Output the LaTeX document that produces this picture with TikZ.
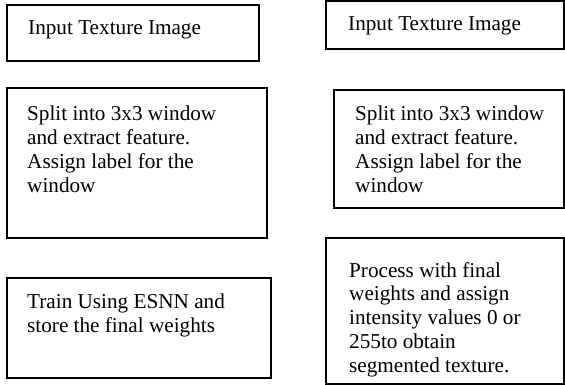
\documentclass[tikz,border=0pt]{standalone}
\usepackage{fontspec}
\setmainfont{Liberation Serif}
\begin{document}
\begin{tikzpicture}[x=1pt,y=-1pt,
  box/.style={draw=black,line width=1.6pt},
  % anchored at the baseline of the last line of each text
  label/.style={anchor=base west,inner sep=0pt,align=left,
    font=\fontsize{21.2}{23.7}\selectfont}]
\useasboundingbox (0,0) rectangle (565,385);
% left column
\draw[box] (7,5) rectangle (259,61);
\draw[box] (7,88) rectangle (267,238);
\draw[box] (7,278) rectangle (271,378);
% right column
\draw[box] (326,1) rectangle (564,49);
\draw[box] (334,90) rectangle (564,208);
\draw[box] (326,238) rectangle (564,384);
% texts
\node[label] (inL) at (28,35) {Input Texture Image};
\node[label] (spL) at (27,192) {Split into 3x3 window\\and extract feature.\\Assign label for the\\window};
\node[label] (tr) at (27,332) {Train Using ESNN and\\store the final weights};
\node[label] (inR) at (348,31) {Input Texture Image};
\node[label] (spR) at (355,192) {Split into 3x3 window\\and extract feature.\\Assign label for the\\window};
\node[label] (pr) at (349,372) {Process with final\\weights and assign\\intensity values 0 or\\255to obtain\\segmented texture.};
\end{tikzpicture}
\end{document}
